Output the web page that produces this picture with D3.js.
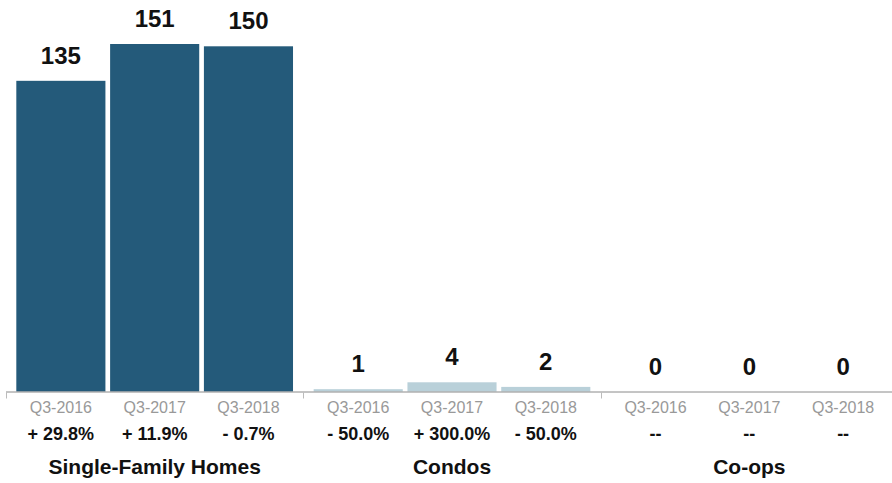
<!DOCTYPE html>
<html><head><meta charset="utf-8">
<script src="https://cdn.jsdelivr.net/npm/d3@7"></script>
<style>body{margin:0;background:#fff}svg{display:block}text{font-family:"Liberation Sans",Arial,Helvetica,sans-serif}</style>
</head><body><div id="chart"></div>
<script>
const groups = ["Single-Family Homes", "Condos", "Co-ops"];
const periods = ["Q3-2016", "Q3-2017", "Q3-2018"];
const sfhValues = [135, 151, 150];
const condoValues = [1, 4, 2];
const coopValues = [0, 0, 0];
const sfhChanges = ["+ 29.8%", "+ 11.9%", "- 0.7%"];
const condoChanges = ["- 50.0%", "+ 300.0%", "- 50.0%"];
const coopChanges = ["--", "--", "--"];
const groupColors = ["#245a7a", "#b9d0d9", "#b9d0d9"];

const values = [sfhValues, condoValues, coopValues];
const changes = [sfhChanges, condoChanges, coopChanges];
const data = [];
groups.forEach((g, gi) => periods.forEach((p, pi) => data.push({group: g, gi, period: p, value: values[gi][pi], change: changes[gi][pi]})));

const W = 892, H = 483, baseY = 391.5;
const svg = d3.select("#chart").append("svg").attr("width", W).attr("height", H);

const x0 = d3.scaleBand().domain(groups).range([6, 898]).padding(0);
const x1 = d3.scaleBand().domain(periods).range([0, x0.bandwidth()]).paddingInner(0.05).paddingOuter(0.11);
const y = d3.scaleLinear().domain([0, 151]).range([baseY, 44]);

svg.selectAll("rect.bar").data(data).join("rect").attr("class", "bar")
  .attr("x", d => x0(d.group) + x1(d.period))
  .attr("width", x1.bandwidth())
  .attr("y", d => y(d.value))
  .attr("height", d => baseY - y(d.value))
  .attr("fill", d => groupColors[d.gi]);

svg.selectAll("text.val").data(data).join("text").attr("class", "val")
  .attr("x", d => x0(d.group) + x1(d.period) + x1.bandwidth() / 2)
  .attr("y", d => y(d.value) - 17)
  .attr("text-anchor", "middle").attr("font-size", 24).attr("font-weight", "bold").attr("fill", "#111")
  .text(d => d.value);

// axis line
svg.append("line").attr("x1", 6).attr("x2", W).attr("y1", baseY + 0.5).attr("y2", baseY + 0.5)
  .attr("stroke", "#8a8a8a").attr("stroke-width", 1);
svg.selectAll("line.tick").data(groups).join("line").attr("class", "tick")
  .attr("x1", d => Math.round(x0(d)) + 0.5).attr("x2", d => Math.round(x0(d)) + 0.5)
  .attr("y1", baseY + 1).attr("y2", baseY + 7)
  .attr("stroke", "#bbb");

svg.selectAll("text.per").data(data).join("text").attr("class", "per")
  .attr("x", d => x0(d.group) + x1(d.period) + x1.bandwidth() / 2)
  .attr("y", 413).attr("text-anchor", "middle").attr("font-size", 16).attr("fill", "#999")
  .text(d => d.period);

svg.selectAll("text.chg").data(data).join("text").attr("class", "chg")
  .attr("x", d => x0(d.group) + x1(d.period) + x1.bandwidth() / 2)
  .attr("y", 440).attr("text-anchor", "middle").attr("font-size", 18).attr("font-weight", "bold").attr("fill", "#111")
  .text(d => d.change);

svg.selectAll("text.grp").data(groups).join("text").attr("class", "grp")
  .attr("x", d => x0(d) + x0.bandwidth() / 2)
  .attr("y", 474).attr("text-anchor", "middle").attr("font-size", 21).attr("font-weight", "bold").attr("fill", "#111")
  .text(d => d);
</script></body></html>
